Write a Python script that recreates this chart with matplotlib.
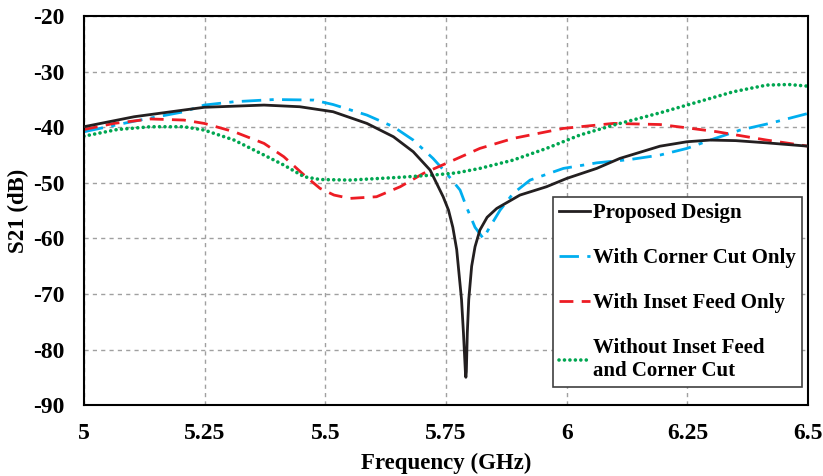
import numpy as np
import matplotlib.pyplot as plt

plt.rcParams['axes.unicode_minus'] = False

# Proposed Design
f_prop = [5.0, 5.104, 5.249, 5.373, 5.447, 5.516, 5.586, 5.641, 5.682, 5.717, 5.744, 5.755, 5.764,
          5.772, 5.782, 5.786, 5.790, 5.791, 5.792, 5.794, 5.797, 5.803, 5.81, 5.82, 5.835, 5.855,
          5.903, 5.958, 6.0, 6.062, 6.11, 6.193, 6.249, 6.297, 6.35, 6.414, 6.5]
s_prop = [-39.9, -38.1, -36.4, -36.0, -36.3, -37.2, -39.3, -41.7, -44.4, -47.7, -52.5, -54.9, -58.0,
          -62.0, -71.0, -77.0, -84.0, -85.0, -84.0, -77.0, -71.0, -65.0, -61.5, -58.5, -56.2, -54.6,
          -52.2, -50.7, -49.2, -47.4, -45.6, -43.4, -42.6, -42.3, -42.4, -42.8, -43.4]

# With Corner Cut Only
f_cc = [5.0, 5.104, 5.207, 5.249, 5.311, 5.394, 5.476, 5.516, 5.586, 5.641, 5.682, 5.723, 5.751,
        5.779, 5.793, 5.81, 5.827, 5.841, 5.862, 5.889, 5.924, 5.993, 6.062, 6.131, 6.193, 6.249,
        6.297, 6.359, 6.42, 6.5]
s_cc = [-40.8, -38.9, -37.2, -36.0, -35.4, -35.0, -35.1, -35.9, -37.8, -39.9, -42.3, -45.6, -48.3,
        -51.3, -54.5, -58.0, -60.0, -57.9, -54.9, -51.9, -49.5, -47.4, -46.4, -45.8, -45.0, -43.8,
        -42.3, -40.5, -39.3, -37.5]

# With Inset Feed Only
f_inset = [5.0, 5.062, 5.138, 5.207, 5.249, 5.311, 5.373, 5.414, 5.456, 5.489, 5.518, 5.551, 5.606,
           5.655, 5.703, 5.758, 5.82, 5.889, 5.993, 6.097, 6.193, 6.249, 6.311, 6.414, 6.5]
s_inset = [-40.4, -39.3, -38.5, -38.7, -39.3, -40.8, -42.9, -45.3, -48.6, -51.0, -52.2, -52.8, -52.5,
           -50.7, -48.3, -46.2, -43.8, -42.0, -40.2, -39.3, -39.5, -40.1, -40.8, -42.3, -43.4]

# Without Inset Feed and Corner Cut
f_none = [5.0, 5.069, 5.138, 5.207, 5.249, 5.311, 5.373, 5.414, 5.456, 5.489, 5.551, 5.655, 5.723,
          5.772, 5.82, 5.889, 5.958, 6.027, 6.097, 6.193, 6.249, 6.345, 6.414, 6.46, 6.5]
s_none = [-41.6, -40.4, -39.9, -39.9, -40.5, -42.3, -45.0, -46.8, -48.9, -49.4, -49.5, -49.0, -48.6,
          -48.2, -47.4, -45.9, -43.8, -41.4, -39.6, -37.4, -36.0, -33.6, -32.4, -32.3, -32.6]

xtick_labels = ['5', '5.25', '5.5', '5.75', '6', '6.25', '6.5']

fig = plt.figure(figsize=(8.23, 4.76), dpi=100)
ax = fig.add_axes([0.102, 0.149, 0.88, 0.817])
font = 'Liberation Serif'

ax.plot(f_prop, s_prop, color='#231f20', lw=2.0, label='Proposed Design', zorder=5)
ax.plot(f_cc, s_cc, color='#00aeef', lw=2.0, dashes=(7, 3, 1.5, 3), label='With Corner Cut Only')
ax.plot(f_inset, s_inset, color='#ed1c24', lw=2.0, dashes=(5, 3), label='With Inset Feed Only')
ax.plot(f_none, s_none, color='#00a651', lw=2.6, dashes=(0.01, 1.5), dash_capstyle='round',
        label='Without Inset Feed\nand Corner Cut')

ax.set_xlim(5, 6.5)
ax.set_ylim(-90, -20)
ax.set_xticks([float(t) for t in xtick_labels])
ax.set_xticklabels(xtick_labels)
ax.set_yticks(np.arange(-90, -19, 10))
ax.tick_params(length=0)
ax.tick_params(axis='x', pad=13)
ax.tick_params(axis='y', pad=14)
for lab in ax.get_xticklabels() + ax.get_yticklabels():
    lab.set_fontfamily(font)
    lab.set_fontweight('bold')
    lab.set_fontsize(17)
ax.grid(True, color='#a0a0a0', linestyle=(0, (3, 3)), lw=1.0)
for sp in ax.spines.values():
    sp.set_linewidth(1.5)

ax.set_xlabel('Frequency (GHz)', fontfamily=font, fontweight='bold', fontsize=16.5, labelpad=6)
ax.set_ylabel('S21 (dB)', fontfamily=font, fontweight='bold', fontsize=16.5, labelpad=3)

leg = ax.legend(loc='upper left', bbox_to_anchor=(0.648, 0.535), borderaxespad=0,
                prop={'family': font, 'weight': 'bold', 'size': 15},
                handlelength=1.5, handletextpad=0.15, labelspacing=1.2, fancybox=False,
                framealpha=1, edgecolor='#404040', borderpad=0.28)
leg.get_frame().set_linewidth(1.2)

fig.savefig('out.png', dpi=100)
